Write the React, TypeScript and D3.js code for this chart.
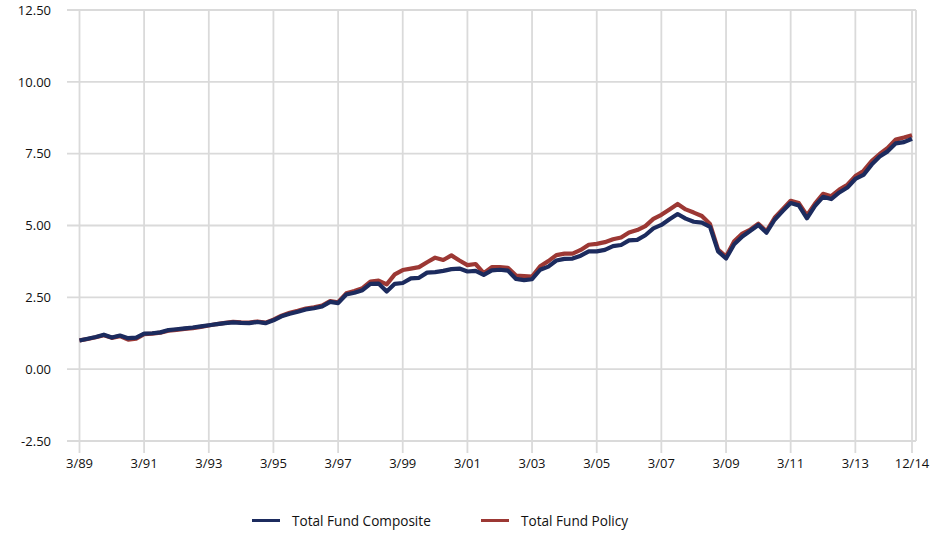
import React from 'react';
import * as d3 from 'd3';

// quarterly growth of $1 (3/89 .. 12/14)
const composite = [
  1.00, 1.06, 1.12, 1.20, 1.10, 1.17, 1.08, 1.10,
  1.24, 1.25, 1.28, 1.36, 1.39, 1.42, 1.45, 1.49,
  1.53, 1.57, 1.60, 1.63, 1.61, 1.60, 1.64, 1.60,
  1.70, 1.84, 1.93, 2.00, 2.08, 2.12, 2.18, 2.34,
  2.30, 2.60, 2.66, 2.75, 2.97, 2.98, 2.70, 2.97,
  3.00, 3.16, 3.18, 3.36, 3.38, 3.42, 3.48, 3.50,
  3.40, 3.42, 3.28, 3.44, 3.46, 3.43, 3.14, 3.10,
  3.13, 3.46, 3.57, 3.78, 3.84, 3.85, 3.95, 4.10,
  4.10, 4.15, 4.28, 4.32, 4.48, 4.50, 4.66, 4.90,
  5.02, 5.22, 5.40, 5.24, 5.13, 5.10, 4.95, 4.10,
  3.85, 4.35, 4.62, 4.82, 5.02, 4.75, 5.20, 5.50,
  5.78, 5.70, 5.25, 5.68, 6.00, 5.92, 6.15, 6.32,
  6.62, 6.76, 7.12, 7.40, 7.58, 7.86, 7.90, 8.02,
];

const policy = [
  1.00, 1.05, 1.11, 1.18, 1.09, 1.15, 1.03, 1.06,
  1.22, 1.24, 1.27, 1.34, 1.37, 1.40, 1.43, 1.47,
  1.52, 1.57, 1.61, 1.65, 1.63, 1.62, 1.66, 1.62,
  1.72, 1.86, 1.96, 2.03, 2.11, 2.15, 2.21, 2.37,
  2.33, 2.64, 2.72, 2.82, 3.05, 3.08, 2.95, 3.30,
  3.45, 3.50, 3.55, 3.72, 3.88, 3.80, 3.96, 3.78,
  3.62, 3.66, 3.34, 3.55, 3.55, 3.53, 3.26, 3.24,
  3.22, 3.58, 3.76, 3.97, 4.02, 4.02, 4.15, 4.33,
  4.36, 4.42, 4.52, 4.58, 4.76, 4.84, 4.98, 5.23,
  5.37, 5.56, 5.75, 5.56, 5.45, 5.33, 5.05, 4.16,
  3.92, 4.45, 4.72, 4.86, 5.06, 4.80, 5.27, 5.57,
  5.86, 5.78, 5.35, 5.76, 6.10, 6.02, 6.25, 6.42,
  6.72, 6.90, 7.24, 7.49, 7.70, 7.99, 8.06, 8.14,
];

const yTicks = [-2.5, 0, 2.5, 5, 7.5, 10, 12.5];
const xTickLabels = ['3/89', '3/91', '3/93', '3/95', '3/97', '3/99', '3/01', '3/03', '3/05', '3/07', '3/09', '3/11', '3/13', '12/14'];

const seriesNames = ['Total Fund Composite', 'Total Fund Policy'];
const seriesColors = ['#1c2b5e', '#9c3834'];

const W = 946;
const H = 535;
const FONT = '"Open Sans", sans-serif';

const start = new Date(1989, 2, 1);
const end = new Date(2014, 11, 1);
// quarter-end months starting at 3/89
const quarters = composite.map((_, i) => d3.timeMonth.offset(start, 3 * i));

const parseLabel = (s: string) => {
  const [m, y] = s.split('/').map(Number);
  return new Date(y < 50 ? 2000 + y : 1900 + y, m - 1, 1);
};

// plain hyphen for negatives, like the original
const fmt = d3.formatLocale({ decimal: '.', thousands: ',', grouping: [3], currency: ['$', ''], minus: '-' }).format('.2f');

export default function App() {
  const x = d3.scaleTime().domain([start, end]).range([79.5, 912]);
  const y = d3.scaleLinear().domain([-2.5, 12.5]).range([441, 10]);
  const plotRight = 916;

  const line = d3.line<number>()
    .x((_, i) => x(quarters[i]))
    .y(d => y(d))
    .curve(d3.curveLinear);

  const grid = '#dadada';

  return (
    <svg width={W} height={H} style={{ position: 'absolute', left: 0, top: 0 }} fontFamily={FONT}>
      <rect width={W} height={H} fill="#fff" />
      {yTicks.map(t => (
        <g key={t}>
          <line x1={67} x2={plotRight} y1={y(t)} y2={y(t)} stroke={grid} strokeWidth={1.8} />
          <text x={51} y={y(t)} dy="0.36em" textAnchor="end" fontSize={13} fill="#111">
            {fmt(t)}
          </text>
        </g>
      ))}
      {xTickLabels.map(l => {
        const xp = x(parseLabel(l));
        return (
          <g key={l}>
            <line x1={xp} x2={xp} y1={y(12.5)} y2={453} stroke={grid} strokeWidth={1.8} />
            <text x={xp} y={468} textAnchor="middle" fontSize={13} fill="#111">{l}</text>
          </g>
        );
      })}
      <line x1={plotRight} x2={plotRight} y1={y(12.5)} y2={y(-2.5)} stroke={grid} strokeWidth={1.8} />

      <path d={line(policy) || ''} fill="none" stroke={seriesColors[1]} strokeWidth={4.2} strokeLinejoin="round" />
      <path d={line(composite) || ''} fill="none" stroke={seriesColors[0]} strokeWidth={4.2} strokeLinejoin="round" />

      {seriesNames.map((n, i) => {
        const lx = i === 0 ? 252 : 481;
        return (
          <g key={n}>
            <line x1={lx} x2={lx + 28} y1={520.5} y2={520.5} stroke={seriesColors[i]} strokeWidth={3} />
            <text x={lx + 40} y={525.5} fontSize={13.6} fill="#111">{n}</text>
          </g>
        );
      })}
    </svg>
  );
}
